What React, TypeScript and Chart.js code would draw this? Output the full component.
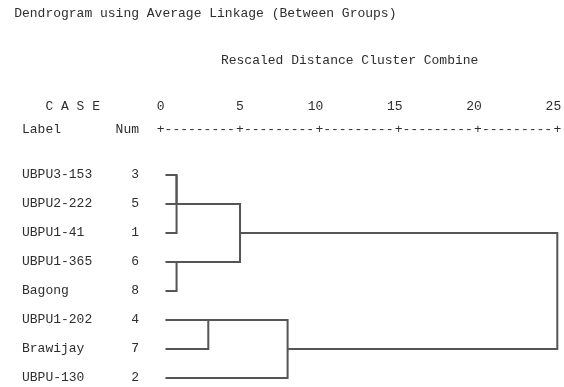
import React, { useEffect, useRef } from 'react';
import { Chart, registerables } from 'chart.js';

Chart.register(...registerables);

// ---- text ----
const TITLE = 'Dendrogram using Average Linkage (Between Groups)';
const SUBTITLE = 'Rescaled Distance Cluster Combine';
const CASE_HEADER = 'C A S E';
const LABEL_HEADER = 'Label';
const NUM_HEADER = 'Num';

// ---- cases, in dendrogram order ----
const CASE_LABELS = ['UBPU3-153', 'UBPU2-222', 'UBPU1-41', 'UBPU1-365', 'Bagong', 'UBPU1-202', 'Brawijay', 'UBPU-130'];
const CASE_NUMS = [3, 5, 1, 6, 8, 4, 7, 2];

// ---- axis ----
const AXIS_MIN = 0;
const AXIS_MAX = 25;
const AXIS_STEP = 5;
const AXIS_SEGMENT = '+---------';
const AXIS_END = '+';

// ---- agglomeration schedule (nodes 0..7 = rows, 8+ = merged clusters) ----
const MERGE_A = [0, 8, 3, 5, 9, 11, 12];
const MERGE_B = [1, 2, 4, 6, 10, 7, 13];
const MERGE_DISTANCE = [1, 1, 1, 3, 5, 8, 25];
const LEAF_START = 0.3;

const FONT_FAMILY = "'Liberation Mono', 'DejaVu Sans Mono', monospace";
const FONT_SIZE = 13;
const TEXT_COLOR = '#2e2e2e';
const LINE_COLOR = '#555555';

function buildSegments() {
  const n = CASE_LABELS.length;
  const pos: number[] = [];
  const height: number[] = [];
  for (let i = 0; i < n; i++) {
    pos.push(i);
    height.push(LEAF_START);
  }
  const paths: { x: number; y: number }[][] = [];
  for (let k = 0; k < MERGE_A.length; k++) {
    const a = MERGE_A[k];
    const b = MERGE_B[k];
    const d = MERGE_DISTANCE[k];
    paths.push([
      { x: height[a], y: pos[a] },
      { x: d, y: pos[a] },
      { x: d, y: pos[b] },
      { x: height[b], y: pos[b] },
    ]);
    pos.push(Math.floor((pos[a] + pos[b]) / 2));
    height.push(d);
  }
  return paths;
}

const rowLabel = (i: number) => CASE_LABELS[i].padEnd(14) + String(CASE_NUMS[i]);

export default function App() {
  const ref = useRef<HTMLCanvasElement | null>(null);

  useEffect(() => {
    document.body.style.margin = '0';
    const canvas = ref.current;
    if (!canvas) return;
    const lineH = FONT_SIZE * 1.2;
    const X2_PAD = 3;
    const X_PAD = 38;

    const headerPlugin = {
      id: 'spssHeader',
      afterDraw(chart: any) {
        const ctx = chart.ctx;
        const y = chart.scales.y;
        const x = chart.scales.x;
        const x2 = chart.scales.x2;
        ctx.save();
        ctx.font = `${FONT_SIZE}px ${FONT_FAMILY}`;
        ctx.fillStyle = TEXT_COLOR;
        ctx.textBaseline = 'middle';
        ctx.textAlign = 'left';
        const cw = ctx.measureText('M').width;
        const left = y.left;
        const numbersY = x2.bottom - X2_PAD - lineH / 2;
        const plusY = x.bottom - X_PAD - lineH / 2;
        ctx.fillText(TITLE, left - cw, 14);
        ctx.fillText(SUBTITLE, left + 25.5 * cw, 61);
        ctx.fillText(CASE_HEADER, left + 3 * cw, numbersY);
        ctx.fillText(LABEL_HEADER.padEnd(12) + NUM_HEADER, left, plusY);
        ctx.restore();
      },
    };

    const datasets = buildSegments().map((path) => ({
      data: path,
      showLine: true,
      borderColor: LINE_COLOR,
      borderWidth: 2,
      pointRadius: 0,
      pointHoverRadius: 0,
      tension: 0,
      fill: false,
      clip: false as any,
      borderJoinStyle: 'miter' as const,
    }));

    const font = { family: FONT_FAMILY, size: FONT_SIZE };

    const chart = new Chart(canvas, {
      type: 'scatter',
      data: { datasets },
      plugins: [headerPlugin],
      options: {
        animation: false,
        responsive: false,
        devicePixelRatio: 1,
        events: [],
        layout: { padding: { left: 22, right: 6.7, top: 0, bottom: 9 } },
        plugins: { legend: { display: false }, tooltip: { enabled: false }, title: { display: false } },
        scales: {
          x: {
            type: 'linear',
            position: 'top',
            weight: 0,
            min: AXIS_MIN,
            max: AXIS_MAX,
            grid: { display: false, drawTicks: false },
            border: { display: false },
            ticks: {
              stepSize: AXIS_STEP,
              autoSkip: false,
              maxRotation: 0,
              minRotation: 0,
              align: 'start',
              labelOffset: -3.9,
              padding: X_PAD,
              font,
              color: TEXT_COLOR,
              callback: (v: any) => (Number(v) >= AXIS_MAX ? AXIS_END : AXIS_SEGMENT),
            },
            afterFit: (s: any) => {
              s.height = 58;
              s.paddingLeft = 0;
              s.paddingRight = 0;
            },
          },
          x2: {
            type: 'linear',
            axis: 'x',
            position: 'top',
            weight: 1,
            min: AXIS_MIN,
            max: AXIS_MAX,
            grid: { display: false, drawTicks: false },
            border: { display: false },
            ticks: {
              stepSize: AXIS_STEP,
              autoSkip: false,
              maxRotation: 0,
              minRotation: 0,
              align: 'end',
              labelOffset: 3.9,
              padding: X2_PAD,
              font,
              color: TEXT_COLOR,
              callback: (v: any) => String(v),
            },
            afterFit: (s: any) => {
              s.height = 117;
              s.paddingLeft = 0;
              s.paddingRight = 0;
            },
          },
          y: {
            type: 'linear',
            reverse: true,
            min: 0,
            max: CASE_LABELS.length - 1,
            grid: { display: false, drawTicks: false },
            border: { display: false },
            ticks: {
              stepSize: 1,
              autoSkip: false,
              crossAlign: 'far',
              font,
              color: TEXT_COLOR,
              callback: (v: any) => (Number.isInteger(Number(v)) ? rowLabel(Number(v)) : ''),
            },
            afterFit: (s: any) => {
              s.width = 138.7;
              s.paddingTop = 0;
              s.paddingBottom = 0;
            },
          },
        },
      },
    } as any);

    return () => chart.destroy();
  }, []);

  return (
    <div style={{ width: 564, height: 387, background: '#ffffff' }}>
      <canvas ref={ref} width={564} height={387} style={{ display: 'block' }} />
    </div>
  );
}
